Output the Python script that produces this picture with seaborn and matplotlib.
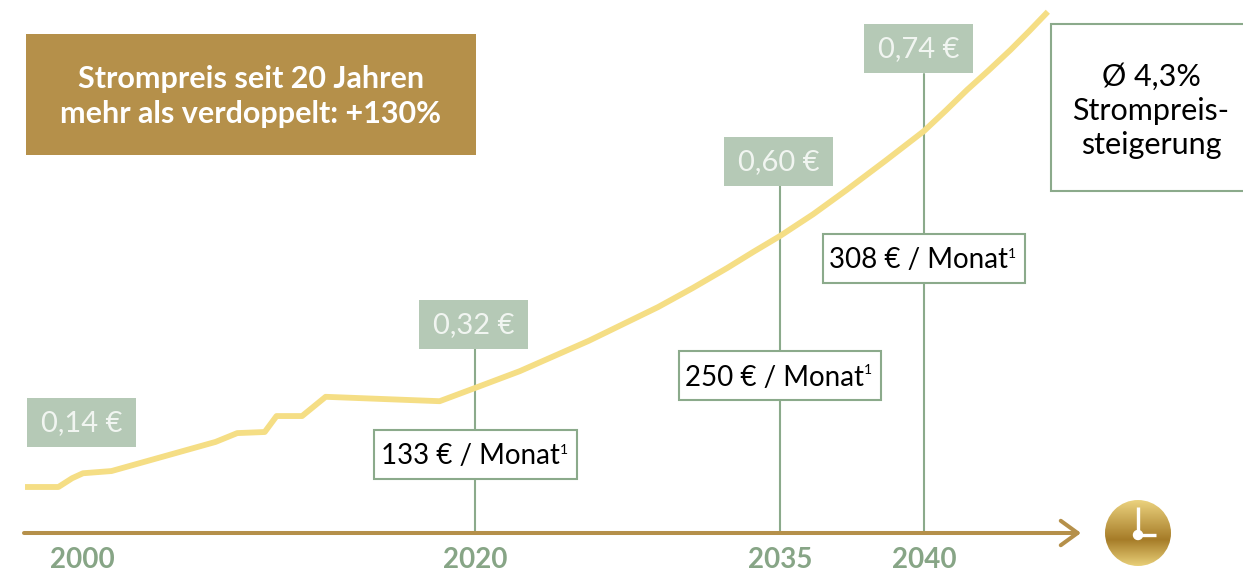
import numpy as np
import pandas as pd
import seaborn as sns
import matplotlib.pyplot as plt
from matplotlib.patches import Rectangle, Circle
from matplotlib.colors import LinearSegmentedColormap

# Strompreis
years = [1997.1, 1998.8, 1999.5, 2000.05, 2001.5, 2006.8, 2007.9, 2009.3, 2009.9, 2011.2,
         2012.4, 2018.2, 2020, 2022.2, 2023.9, 2025.6, 2027.3, 2029, 2030.7, 2032.4,
         2033.7, 2035, 2036.15, 2037.3, 2038.65, 2040, 2040.75, 2041.5, 2042.25, 2043,
         2043.65, 2044.3]
prices = [0.14, 0.14, 0.156, 0.165, 0.169, 0.222, 0.238, 0.24, 0.269, 0.269,
          0.304, 0.296, 0.32, 0.351, 0.379, 0.407, 0.438, 0.469, 0.504, 0.541,
          0.571, 0.60, 0.629, 0.661, 0.70, 0.74, 0.767, 0.795, 0.821, 0.848,
          0.873, 0.899]

tick_years = [2000, 2020, 2035, 2040]
price_labels = ['0,14 €', '0,32 €', '0,60 €', '0,74 €']
month_labels = ['133 € / Monat', '250 € / Monat', '308 € / Monat']

W, H = 1243, 571
GREEN = '#8BAA8B'
PALE = '#B5C9B6'
GOLD = '#B5904A'
YELLOW = '#F5DE85'

sns.set_style('white')
plt.rcParams['font.family'] = ['Lato', 'DejaVu Sans']

# die Zeitachse der Vorlage ist nicht linear
x_a = [1950, 2000, 2020, 2035, 2040, 2100]
x_p = [-900.5, 82, 475, 780, 924, 2652]
y_a = [-0.5, 0.14, 0.32, 0.60, 0.74, 2.0]
y_p = [-839, -487, -388, -236, -131, 814]


def fx(v):
    return np.interp(v, x_a, x_p)


def fx_inv(v):
    return np.interp(v, x_p, x_a)


def fy(v):
    return np.interp(v, y_a, y_p)


def fy_inv(v):
    return np.interp(v, y_p, y_a)


def fig_xy(x, y):
    return x / W, 1 - y / H


def box(x0, y0, x1, y1, face, edge='none', lw=0, zorder=3):
    fig.add_artist(Rectangle(fig_xy(x0, y1), (x1 - x0) / W, (y1 - y0) / H, transform=fig.transFigure,
                             facecolor=face, edgecolor=edge, linewidth=lw, zorder=zorder))


def label(x, y, s, color='black', size=21, weight='normal'):
    fx_, fy_ = fig_xy(x, y)
    fig.text(fx_, fy_, s, color=color, fontsize=size, fontweight=weight, ha='center', va='center', zorder=5)


fig = plt.figure(figsize=(W / 100, H / 100), dpi=100)
ax = fig.add_axes([0, 1 - 533 / H, 1, 533 / H])
ax.patch.set_visible(False)
ax.set_xscale('function', functions=(fx, fx_inv))
ax.set_yscale('function', functions=(fy, fy_inv))
ax.set_xlim(fx_inv(0), fx_inv(W))
ax.set_ylim(fy_inv(-533), fy_inv(0))

df = pd.DataFrame({'Jahr': years, 'Preis': prices})
sns.lineplot(data=df, x='Jahr', y='Preis', ax=ax, color=YELLOW, linewidth=4.2, sort=False,
             estimator=None, zorder=3, solid_capstyle='butt', solid_joinstyle='round')

# Stiele von der Achse bis zur Preisbox
stem_tops = {2020: 349, 2035: 186, 2040: 74}
for yr, top in stem_tops.items():
    ax.plot([yr, yr], [fy_inv(-533), fy_inv(-top)], color=GREEN, lw=1.5, zorder=2)

ax.set_xticks(tick_years)
ax.set_xticklabels(tick_years, fontsize=20, fontweight='bold', color='#87A586')
ax.set_yticks([])
ax.minorticks_off()
ax.tick_params(axis='x', length=0, pad=10)
ax.set_xlabel('')
ax.set_ylabel('')
sns.despine(ax=ax, left=True, bottom=True)

# Zeitachse mit Pfeil
x0, y0 = fig_xy(24, 533)
x1, y1 = fig_xy(1081, 533)
ax.annotate('', xy=(x1, y1), xytext=(x0, y0), xycoords='figure fraction', textcoords='figure fraction',
            arrowprops=dict(arrowstyle='->,head_length=0.55,head_width=0.4', color=GOLD, lw=2.9,
                            shrinkA=0, shrinkB=0, mutation_scale=22), zorder=4)

# Preisboxen
price_boxes = [(27, 398, 136, 447), (419, 300, 528, 349), (724, 137, 833, 186), (864, 24, 973, 73)]
for b, s in zip(price_boxes, price_labels):
    box(*b, PALE)
    label((b[0] + b[2]) / 2, (b[1] + b[3]) / 2 + 1, s, color='#F1F5F1', size=21)

# Monatsboxen
month_boxes = [(374, 430, 577, 479), (679, 351, 881, 400), (823, 234, 1025, 283)]
for b, s in zip(month_boxes, month_labels):
    box(*b, 'white', GREEN, 1.5)
    mid = (b[0] + b[2]) / 2
    label(mid - 5.5, (b[1] + b[3]) / 2 + 2, s, size=20)
    label(mid + 88, (b[1] + b[3]) / 2 - 5, '1', size=10)

# Titelbox
box(26, 34, 476, 155, GOLD)
label(251, 79, 'Strompreis seit 20 Jahren', color='white', size=22, weight='bold')
label(251, 114, 'mehr als verdoppelt: +130%', color='white', size=22, weight='bold')

# rechte Box, rechts offen
box(1051, 24, 1260, 191, 'white', GREEN, 1.5)
label(1151, 77, 'Ø 4,3%', size=22)
label(1151, 111, 'Strompreis-', size=22)
label(1151, 145, 'steigerung', size=22)

# Uhr
clock = fig.add_axes([1105 / W, 1 - 566 / H, 66 / W, 66 / H])
clock.axis('off')
cmap = LinearSegmentedColormap.from_list('gold', [(0, '#EBD27E'), (0.6, '#A67C28'), (1, '#E8CF78')])
img = clock.imshow(np.linspace(0, 1, 200).reshape(-1, 1), cmap=cmap, extent=(-33, 33, -33, 33), aspect='auto',
                   origin='upper')
img.set_clip_path(Circle((0, 0), 33, transform=clock.transData))
clock.plot([0, 0], [-2, 26], color='white', lw=2.4, solid_capstyle='butt')
clock.plot([0, 18], [-2, -2], color='white', lw=2.4, solid_capstyle='butt')
clock.add_patch(Circle((0, -2), 4.5, color='white', zorder=5))
clock.set_xlim(-33, 33)
clock.set_ylim(-33, 33)

fig.savefig('out.png', dpi=100)
